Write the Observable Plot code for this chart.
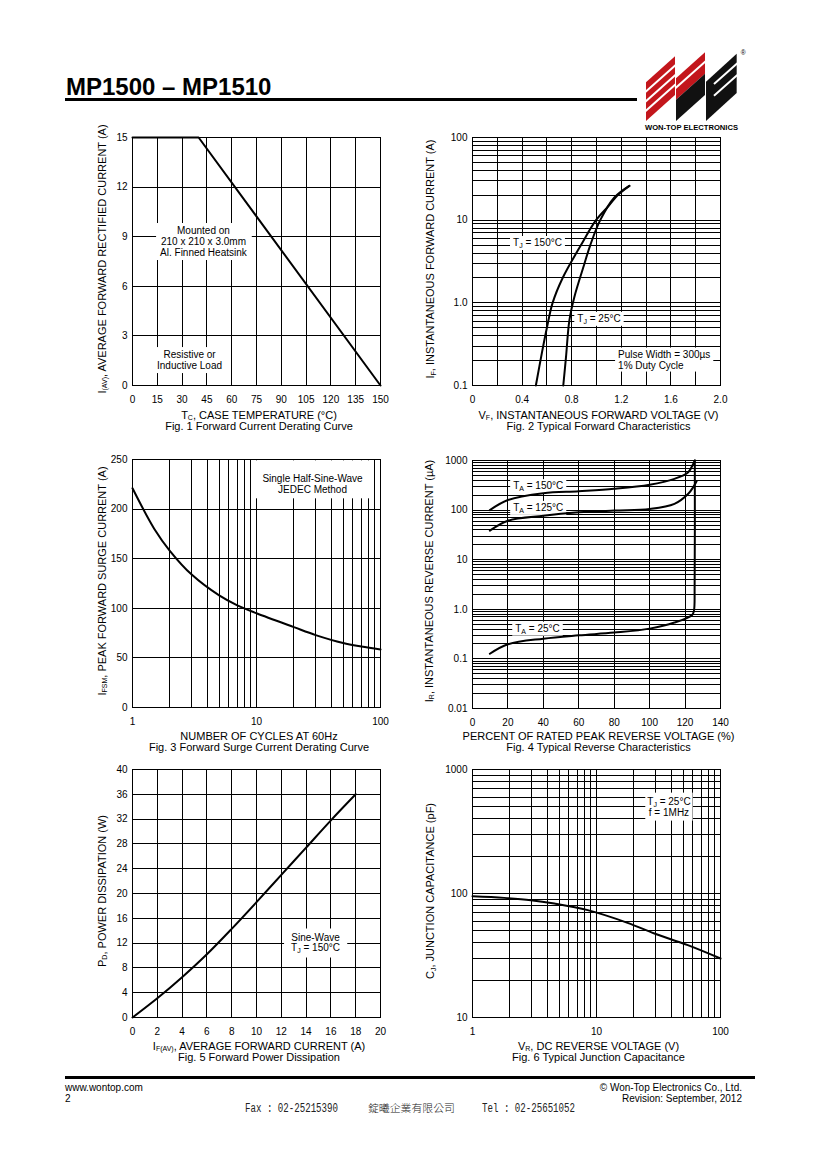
<!DOCTYPE html>
<html><head><meta charset="utf-8">
<script src="https://cdn.jsdelivr.net/npm/d3@7"></script>
<script src="https://cdn.jsdelivr.net/npm/@observablehq/plot@0.6"></script>
<style>
html,body{margin:0;padding:0;background:#fff}
#page{position:relative;width:820px;height:1160px;overflow:hidden;background:#fff;font-family:"Liberation Sans",Arial,sans-serif}
#overlay{position:absolute;left:0;top:0;z-index:2;pointer-events:none}
</style></head>
<body><div id="page"></div>
<script>
// ---------------- DATA ----------------
// Fig 1 Forward Current Derating Curve
const fig1TempC = [0, 40, 150];
const fig1CurrentA = [15, 15, 0];
const fig1XTicks = [0, 15, 30, 45, 60, 75, 90, 105, 120, 135, 150];
const fig1XGrid = [15, 30, 45, 60, 75, 90, 105, 120, 135];
const fig1YTicks = [0, 3, 6, 9, 12, 15];
const fig1YGrid = [3, 6, 9, 12];

// Fig 2 Typical Forward Characteristics
const fig2V150 = [0.511, 0.560, 0.600, 0.646, 0.727, 0.875, 0.996, 1.100, 1.170, 1.265];
const fig2I150 = [0.1, 0.25, 0.5, 1.0, 2.0, 5.0, 10, 15, 20, 26];
const fig2V25 = [0.732, 0.754, 0.781, 0.821, 0.902, 0.950, 1.030, 1.144, 1.265];
const fig2I25 = [0.1, 0.22, 0.61, 1.17, 2.95, 5.0, 10, 18.8, 26];
const fig2XTicks = [0, 0.4, 0.8, 1.2, 1.6, 2.0];
const fig2XTickLabels = ["0", "0.4", "0.8", "1.2", "1.6", "2.0"];
const fig2XGrid = [0.2, 0.4, 0.6, 0.8, 1.0, 1.2, 1.4, 1.6, 1.8];
const fig2YTicks = [0.1, 1, 10, 100];
const fig2YTickLabels = ["0.1", "1.0", "10", "100"];
const fig2YGrid = [0.2, 0.3, 0.4, 0.5, 0.6, 0.7, 0.8, 0.9, 1, 2, 3, 4, 5, 6, 7, 8, 9, 10, 20, 30, 40, 50, 60, 70, 80, 90];

// Fig 3 Forward Surge Current Derating Curve
const fig3Cycles = [1, 1.5, 2, 3, 5, 7, 10, 20, 30, 50, 70, 100];
const fig3SurgeA = [221, 180, 158, 134, 113, 103, 95, 81, 73, 65, 61.5, 58.5];
const fig3XTicks = [1, 10, 100];
const fig3XTickLabels = ["1", "10", "100"];
const fig3XGrid = [2, 3, 4, 5, 6, 7, 8, 9, 10, 20, 30, 40, 50, 60, 70, 80, 90];
const fig3YTicks = [0, 50, 100, 150, 200, 250];
const fig3YGrid = [50, 100, 150, 200];

// Fig 4 Typical Reverse Characteristics
const fig4V150 = [9.8, 20, 40, 60, 80, 100, 114, 121.8, 124.6, 125.5];
const fig4I150 = [100, 160, 219, 240, 268, 323, 426, 580, 855, 1000];
const fig4V125 = [9.8, 20, 40, 60, 80, 100, 114, 121.8, 124.6, 126.5];
const fig4I125 = [38.5, 61, 77, 90, 98, 105, 133, 213, 290, 383];
const fig4V25 = [9.8, 20, 40, 60, 80, 100, 114, 124, 125, 125.4, 125.5];
const fig4I25 = [0.127, 0.197, 0.256, 0.299, 0.339, 0.408, 0.54, 0.77, 0.93, 3, 1000];
const fig4XTicks = [0, 20, 40, 60, 80, 100, 120, 140];
const fig4XGrid = [20, 40, 60, 80, 100, 120];
const fig4YTicks = [0.01, 0.1, 1, 10, 100, 1000];
const fig4YTickLabels = ["0.01", "0.1", "1.0", "10", "100", "1000"];
const fig4YGrid = [0.02, 0.03, 0.04, 0.05, 0.06, 0.07, 0.08, 0.09, 0.1, 0.2, 0.3, 0.4, 0.5, 0.6, 0.7, 0.8, 0.9, 1, 2, 3, 4, 5, 6, 7, 8, 9, 10, 20, 30, 40, 50, 60, 70, 80, 90, 100, 200, 300, 400, 500, 600, 700, 800, 900];

// Fig 5 Forward Power Dissipation
const fig5CurrentA = [0, 2, 4, 6, 8, 10, 12, 14, 16, 18];
const fig5PowerW = [0, 3.1, 6.5, 10.2, 14.3, 18.6, 23.0, 27.4, 31.8, 36];
const fig5XTicks = [0, 2, 4, 6, 8, 10, 12, 14, 16, 18, 20];
const fig5XGrid = [2, 4, 6, 8, 10, 12, 14, 16, 18];
const fig5YTicks = [0, 4, 8, 12, 16, 20, 24, 28, 32, 36, 40];
const fig5YGrid = [4, 8, 12, 16, 20, 24, 28, 32, 36];

// Fig 6 Typical Junction Capacitance
const fig6VoltV = [1, 1.8, 2.96, 4.57, 8.5, 17.8, 29.3, 54.5, 100];
const fig6CapPF = [95, 92.2, 88.4, 83, 73.4, 58, 47.6, 38.3, 29.9];
const fig6XTicks = [1, 10, 100];
const fig6XTickLabels = ["1", "10", "100"];
const fig6XGrid = [2, 3, 4, 5, 6, 7, 8, 9, 10, 20, 30, 40, 50, 60, 70, 80, 90];
const fig6YTicks = [10, 100, 1000];
const fig6YTickLabels = ["10", "100", "1000"];
const fig6YGrid = [20, 30, 40, 50, 60, 70, 80, 90, 100, 200, 300, 400, 500, 600, 700, 800, 900];

// ---------------- BUILD ----------------
const ns = "http://www.w3.org/2000/svg";
const page = document.getElementById("page");
const M = {l: 45, r: 15, t: 10, b: 25}, FW = 248, FH = 248;
const zip = (xs, ys) => xs.map((x, i) => ({x, y: ys[i]}));
const fmt = (ticks, labels) => d => labels ? labels[ticks.indexOf(d)] : String(d);

function subify(textEl) {
  const walker = document.createTreeWalker(textEl, NodeFilter.SHOW_TEXT);
  const nodes = [];
  while (walker.nextNode()) nodes.push(walker.currentNode);
  for (const node of nodes) {
    const s = node.nodeValue;
    if (!s.includes("_")) continue;
    const parts = s.split(/_(\w)/);
    const frag = document.createDocumentFragment();
    frag.append(parts[0]);
    for (let i = 1; i < parts.length; i += 2) {
      const a = document.createElementNS(ns, "tspan");
      a.setAttribute("dy", "2"); a.setAttribute("font-size", "7"); a.textContent = parts[i];
      const b = document.createElementNS(ns, "tspan");
      b.setAttribute("dy", "-2"); b.textContent = parts[i + 1] || " ";
      frag.append(a, b);
    }
    node.replaceWith(frag);
  }
}

function buildChart(c) {
  const grid = {stroke: "#000", strokeWidth: 1, shapeRendering: "crispEdges"};
  const marks = [
    Plot.ruleX(c.xGrid, grid),
    Plot.ruleY(c.yGrid, grid),
    Plot.frame(grid),
    ...c.notes.map(n => Plot.text([n], {x: "x", y: "y", text: "text", textAnchor: n.anchor || "middle",
      fontSize: 10, lineHeight: 1.1, fill: "#000", ariaDescription: "note"})),
    ...c.series.map(s => Plot.line(zip(s[0], s[1]), {x: "x", y: "y", stroke: "#000", strokeWidth: 2,
      curve: c.curve || "catmull-rom"}))
  ];
  const svg = Plot.plot({
    width: FW + M.l + M.r, height: FH + M.t + M.b,
    marginLeft: M.l, marginRight: M.r, marginTop: M.t, marginBottom: M.b,
    style: {fontFamily: "Liberation Sans, Arial, sans-serif", fontSize: "10px", background: "transparent", color: "#000", overflow: "visible"},
    x: {type: c.xType || "linear", domain: c.xDomain, ticks: c.xTicks, tickFormat: fmt(c.xTicks, c.xLabels),
        tickSize: 0, tickPadding: 10, label: null},
    y: {type: c.yType || "linear", domain: c.yDomain, ticks: c.yTicks, tickFormat: fmt(c.yTicks, c.yLabels),
        tickSize: 0, tickPadding: 5, label: null},
    marks
  });
  svg.style.position = "absolute";
  svg.style.left = (c.left - M.l) + "px";
  svg.style.top = (c.top - M.t) + "px";
  svg.style.maxWidth = "none";
  page.append(svg);
  const [pt, pr, pb, pl] = c.pad;
  const noteTexts = new Set([
    ...svg.querySelectorAll('g[aria-description="note"] text'),
    ...svg.querySelectorAll('g[aria-label="text"] text')
  ]);
  noteTexts.forEach(t => {
    subify(t);
    const b = t.getBBox();
    const r = document.createElementNS(ns, "rect");
    r.setAttribute("x", b.x - pl); r.setAttribute("y", b.y - pt);
    r.setAttribute("width", b.width + pl + pr); r.setAttribute("height", b.height + pt + pb);
    r.setAttribute("fill", "#fff"); r.setAttribute("stroke", "none");
    if (t.getAttribute("transform")) r.setAttribute("transform", t.getAttribute("transform"));
    t.parentNode.insertBefore(r, t);
  });
}

buildChart({left: 132, top: 137, xDomain: [0, 150], yDomain: [0, 15],
  xTicks: fig1XTicks, yTicks: fig1YTicks, xGrid: fig1XGrid, yGrid: fig1YGrid,
  curve: "linear", series: [[fig1TempC, fig1CurrentA]], pad: [2, 4, 2, 4],
  notes: [{x: 42.9, y: 8.71, text: "Mounted on\n210 x 210 x 3.0mm\nAl. Finned Heatsink"},
          {x: 34.5, y: 1.54, text: "Resistive or\nInductive Load"}]});

buildChart({left: 472, top: 137, xDomain: [0, 2], yType: "log", yDomain: [0.1, 100],
  xTicks: fig2XTicks, xLabels: fig2XTickLabels, yTicks: fig2YTicks, yLabels: fig2YTickLabels,
  xGrid: fig2XGrid, yGrid: fig2YGrid, series: [[fig2V150, fig2I150], [fig2V25, fig2I25]], pad: [1, 3, 1, 3],
  notes: [{x: 0.524, y: 5.37, text: "T_J = 150°C"},
          {x: 1.02, y: 0.65, text: "T_J = 25°C"},
          {x: 1.174, y: 0.206, text: "Pulse Width = 300µs\n1% Duty Cycle", anchor: "start"}]});

buildChart({left: 132, top: 459, xType: "log", xDomain: [1, 100], yDomain: [0, 250],
  xTicks: fig3XTicks, xLabels: fig3XTickLabels, yTicks: fig3YTicks,
  xGrid: fig3XGrid, yGrid: fig3YGrid, series: [[fig3Cycles, fig3SurgeA]], pad: [13, 7, 3, 7],
  notes: [{x: 28.3, y: 225, text: "Single Half-Sine-Wave\nJEDEC Method"}]});

buildChart({left: 471.5, top: 459.5, xDomain: [0, 140], yType: "log", yDomain: [0.01, 1000],
  xTicks: fig4XTicks, yTicks: fig4YTicks, yLabels: fig4YTickLabels,
  xGrid: fig4XGrid, yGrid: fig4YGrid,
  series: [[fig4V150, fig4I150], [fig4V125, fig4I125], [fig4V25, fig4I25]], pad: [1, 3, 1, 3],
  notes: [{x: 37.1, y: 312, text: "T_A = 150°C"},
          {x: 37.1, y: 113.5, text: "T_A = 125°C"},
          {x: 36.7, y: 0.417, text: "T_A = 25°C"}]});

buildChart({left: 132, top: 769, xDomain: [0, 20], yDomain: [0, 40],
  xTicks: fig5XTicks, yTicks: fig5YTicks, xGrid: fig5XGrid, yGrid: fig5YGrid,
  series: [[fig5CurrentA, fig5PowerW]], pad: [3, 7, 3, 7],
  notes: [{x: 14.76, y: 12.1, text: "Sine-Wave\nT_J = 150°C"}]});

buildChart({left: 472, top: 769, xType: "log", xDomain: [1, 100], yType: "log", yDomain: [10, 1000],
  xTicks: fig6XTicks, xLabels: fig6XTickLabels, yTicks: fig6YTicks, yLabels: fig6YTickLabels,
  xGrid: fig6XGrid, yGrid: fig6YGrid, series: [[fig6VoltV, fig6CapPF]], pad: [3, 2, 3, 2],
  notes: [{x: 38.4, y: 502, text: "T_J = 25°C\nf = 1MHz"}]});

// ---------------- PAGE TEXT / DECORATION ----------------
const sub = (a, s, rest) => `${a}<tspan dy="1.5" font-size="7">${s}</tspan><tspan dy="-1.5">${rest}</tspan>`;
const yLabels = [
  [105.7, 259, sub("I", "(AV)", ", AVERAGE FORWARD RECTIFIED CURRENT (A)")],
  [434, 259, sub("I", "F", ", INSTANTANEOUS FORWARD CURRENT (A)")],
  [105.7, 581, sub("I", "FSM", ", PEAK FORWARD SURGE CURRENT (A)")],
  [432.5, 581, sub("I", "R", ", INSTANTANEOUS REVERSE CURRENT (µA)")],
  [105.7, 891, sub("P", "D", ", POWER DISSIPATION (W)")],
  [434, 891, sub("C", "J", ", JUNCTION CAPACITANCE (pF)")]
];
const xLabels = [
  [259, 418.5, sub("T", "C", ", CASE TEMPERATURE (°C)"), "Fig. 1 Forward Current Derating Curve"],
  [598.5, 418.5, sub("V", "F", ", INSTANTANEOUS FORWARD VOLTAGE (V)"), "Fig. 2 Typical Forward Characteristics"],
  [259, 739.5, "NUMBER OF CYCLES AT 60Hz", "Fig. 3 Forward Surge Current Derating Curve"],
  [598.5, 739.5, "PERCENT OF RATED PEAK REVERSE VOLTAGE (%)", "Fig. 4 Typical Reverse Characteristics"],
  [259, 1049.5, sub("I", "F(AV)", ", AVERAGE FORWARD CURRENT (A)"), "Fig. 5 Forward Power Dissipation"],
  [598.5, 1049.5, sub("V", "R", ", DC REVERSE VOLTAGE (V)"), "Fig. 6 Typical Junction Capacitance"]
];
const red = "#c3161c";
const logo = `
<g transform="translate(620,45) scale(0.33333)">
  <polygon points="78,112 165,34 165,150 78,228" fill="${red}"/>
  <polygon points="168,100 255,22 255,86 168,164" fill="${red}"/>
  <polygon points="168,228 168,164 255,86 255,150" fill="#111"/>
  <polygon points="258,228 258,110 350,26 350,144" fill="#111"/>
  <g stroke="#fff" stroke-width="6">
    <line x1="76" y1="141" x2="167" y2="60"/>
    <line x1="76" y1="170" x2="167" y2="89"/>
    <line x1="76" y1="199" x2="167" y2="118"/>
    <line x1="166" y1="130" x2="257" y2="49"/>
    <line x1="282" y1="117" x2="352" y2="55"/>
    <line x1="282" y1="152" x2="352" y2="90"/>
  </g>
  <text x="362" y="30" font-size="20" fill="#000">®</text>
</g>
<text x="645" y="129.5" font-size="7.4" font-weight="bold" textLength="93" lengthAdjust="spacingAndGlyphs">WON-TOP ELECTRONICS</text>`;

const ov = `
<svg id="overlay" xmlns="${ns}" width="820" height="1160" viewBox="0 0 820 1160" font-family="Liberation Sans, Arial, sans-serif" fill="#000">
  <text x="66" y="95" font-size="24" font-weight="bold">MP1500 – MP1510</text>
  <rect x="65" y="98" width="572" height="3"/>
  ${logo}
  ${yLabels.map(([x, y, t]) => `<text transform="translate(${x},${y}) rotate(-90)" text-anchor="middle" font-size="11">${t}</text>`).join("")}
  ${xLabels.map(([x, y, t, cap]) => `<text x="${x}" y="${y}" text-anchor="middle" font-size="11">${t}</text><text x="${x}" y="${y + 11}" text-anchor="middle" font-size="11">${cap}</text>`).join("")}
  <rect x="65" y="1076" width="690" height="3"/>
  <text x="65" y="1091" font-size="10">www.wontop.com</text>
  <text x="65" y="1101.5" font-size="10">2</text>
  <text x="742" y="1091" font-size="10" text-anchor="end">© Won-Top Electronics Co., Ltd.</text>
  <text x="742" y="1101.5" font-size="10" text-anchor="end">Revision: September, 2012</text>
  <text x="245" y="1111.5" font-size="12.5" font-family="Liberation Mono, monospace" textLength="93" lengthAdjust="spacingAndGlyphs" fill="#222">Fax : 02-25215390</text>
  <text x="368" y="1111.5" font-size="10.5" font-weight="300" font-family="Noto Sans CJK TC, sans-serif" textLength="87" lengthAdjust="spacingAndGlyphs" fill="#222">錠曦企業有限公司</text>
  <text x="482" y="1111.5" font-size="12.5" font-family="Liberation Mono, monospace" textLength="93" lengthAdjust="spacingAndGlyphs" fill="#222">Tel : 02-25651052</text>
</svg>`;
page.insertAdjacentHTML("beforeend", ov);
</script>
</body></html>
